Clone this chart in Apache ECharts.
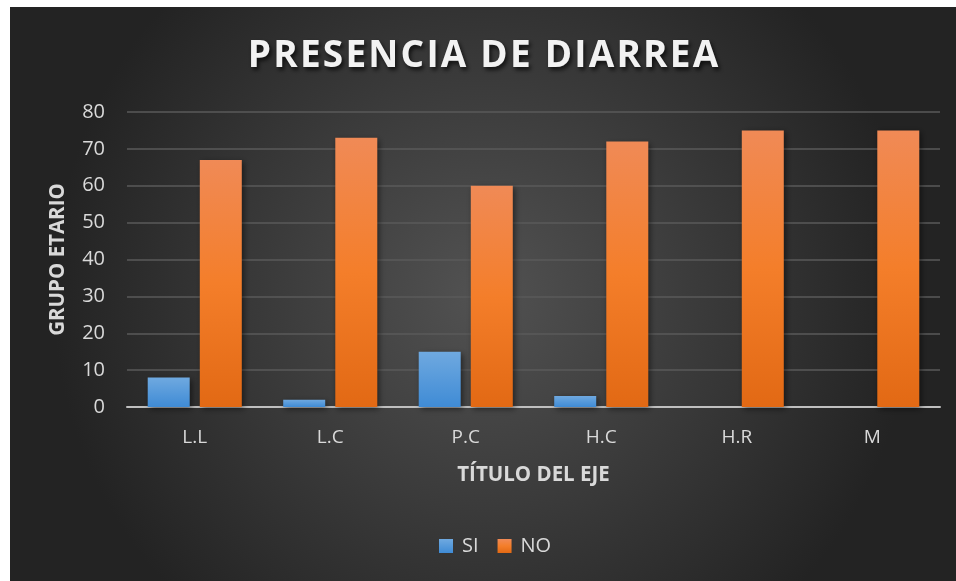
<!DOCTYPE html>
<html>
<head>
<meta charset="utf-8">
<script src="https://cdn.jsdelivr.net/npm/echarts@6/dist/echarts.min.js"></script>
<style>
html,body{margin:0;padding:0;background:#fff;width:956px;height:581px;overflow:hidden;}
#c{position:absolute;left:10px;top:7px;width:946px;height:574px;}
</style>
</head>
<body>
<div id="c"></div>
<script>
const titleText = 'PRESENCIA DE DIARREA';
const categories = ['L.L', 'L.C', 'P.C', 'H.C', 'H.R', 'M'];
const siValues = [8, 2, 15, 3, 0, 0];
const noValues = [67, 73, 60, 72, 75, 75];
const yTicks = { min: 0, max: 80, interval: 10 };

const chart = echarts.init(document.getElementById('c'), null, { renderer: 'canvas' });
const font = '"Open Sans", "Liberation Sans", sans-serif';
const titleStyle = {
  fontFamily: font, fontSize: 37, fontWeight: 'bold', color: '#f2f2f2',
  textShadowColor: 'rgba(0,0,0,0.7)', textShadowBlur: 4, textShadowOffsetX: 2, textShadowOffsetY: 3,
  padding: [0, 1.1, 0, 1.1]
};
chart.setOption({
  backgroundColor: {
    type: 'radial', x: 0.5, y: 0.5, r: 0.75,
    colorStops: [{ offset: 0, color: '#525252' }, { offset: 1, color: '#232323' }]
  },
  animation: false,
  title: {
    text: titleText.split('').map(ch => '{a|' + ch + '}').join(''),
    left: 'center', top: 26,
    textStyle: {
      fontFamily: font, fontSize: 37, fontWeight: 'bold', color: '#f2f2f2',
      rich: { a: titleStyle }
    }
  },
  legend: {
    bottom: 20, left: 424,
    itemWidth: 14, itemHeight: 14, itemGap: 19,
    icon: 'rect',
    textStyle: { color: '#d9d9d9', fontFamily: font, fontSize: 20, padding: [0, 0, 0, 4] },
    data: ['SI', 'NO']
  },
  grid: { left: 117, right: 16, top: 105, bottom: 174, containLabel: false },
  xAxis: {
    type: 'category', data: categories,
    name: 'TÍTULO DEL EJE', nameLocation: 'middle', nameGap: 58,
    nameTextStyle: { color: '#d9d9d9', fontFamily: font, fontSize: 20.5, fontWeight: 'bold' },
    axisLine: { lineStyle: { color: '#bfbfbf', width: 2 } },
    axisTick: { show: false },
    axisLabel: { color: '#d9d9d9', fontFamily: font, fontSize: 19, margin: 21 }
  },
  yAxis: {
    type: 'value', min: yTicks.min, max: yTicks.max, interval: yTicks.interval,
    name: 'GRUPO ETARIO', nameLocation: 'middle', nameGap: 58, nameRotate: 90,
    nameTextStyle: { color: '#d9d9d9', fontFamily: font, fontSize: 20.5, fontWeight: 'bold' },
    axisLine: { show: false }, axisTick: { show: false },
    axisLabel: { color: '#d9d9d9', fontFamily: font, fontSize: 20, margin: 22 },
    splitLine: { lineStyle: { color: '#5a5a5a', width: 1.5 } }
  },
  series: [
    {
      name: 'SI', type: 'bar', data: siValues, barWidth: 42, barGap: '24%',
      itemStyle: {
        color: { type: 'linear', x: 0, y: 0, x2: 0, y2: 1,
          colorStops: [{ offset: 0, color: '#6fa9e0' }, { offset: 1, color: '#3f8bd5' }] },
        shadowColor: 'rgba(0,0,0,0.5)', shadowBlur: 6, shadowOffsetX: 2, shadowOffsetY: 2
      }
    },
    {
      name: 'NO', type: 'bar', data: noValues, barWidth: 42,
      itemStyle: {
        color: { type: 'linear', x: 0, y: 0, x2: 0, y2: 1,
          colorStops: [{ offset: 0, color: '#f08a56' }, { offset: 0.5, color: '#f47e2a' }, { offset: 1, color: '#e26914' }] },
        shadowColor: 'rgba(0,0,0,0.5)', shadowBlur: 6, shadowOffsetX: 2, shadowOffsetY: 2
      }
    }
  ]
});
</script>
</body>
</html>
